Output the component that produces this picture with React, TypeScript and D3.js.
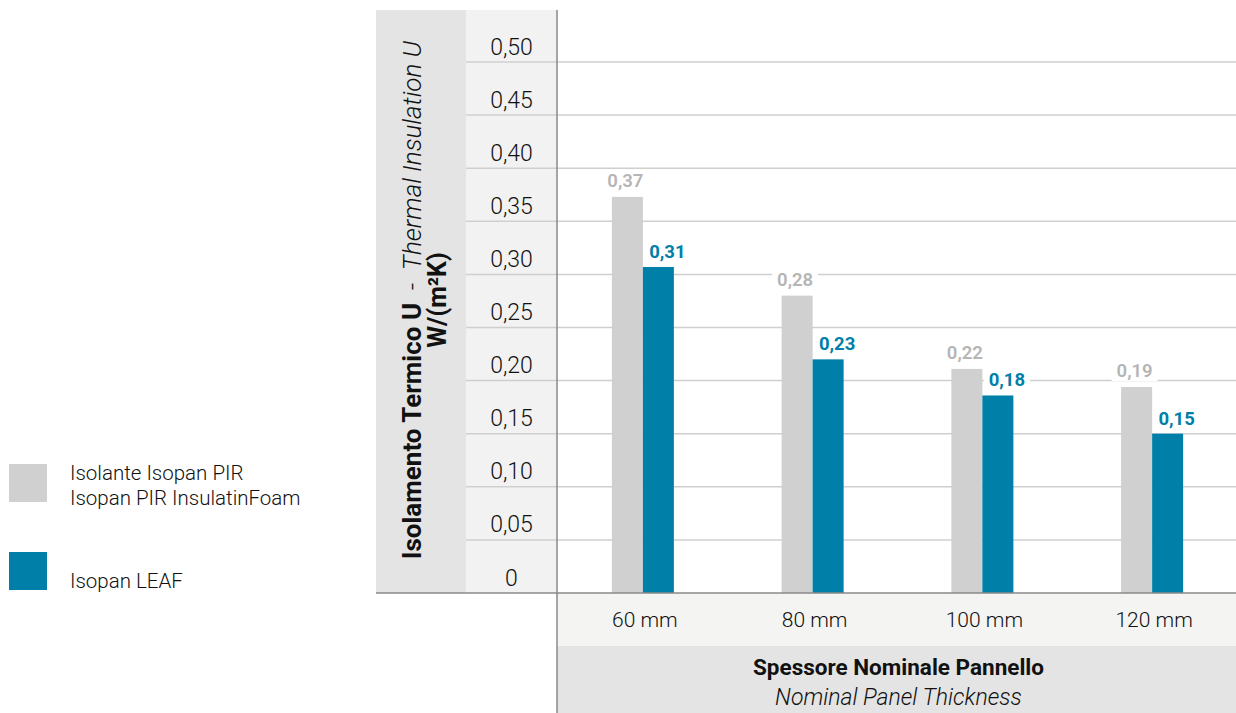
import React from "react";
import * as d3 from "d3";

const categories = ["60 mm", "80 mm", "100 mm", "120 mm"];
const pirValues = [0.373, 0.28, 0.211, 0.194];
const leafValues = [0.307, 0.22, 0.186, 0.15];
const pirLabels = ["0,37", "0,28", "0,22", "0,19"];
const leafLabels = ["0,31", "0,23", "0,18", "0,15"];
const yTicks = [0, 0.05, 0.1, 0.15, 0.2, 0.25, 0.3, 0.35, 0.4, 0.45, 0.5];
const yTickLabels = ["0", "0,05", "0,10", "0,15", "0,20", "0,25", "0,30", "0,35", "0,40", "0,45", "0,50"];
const legendItems = [
  { lines: ["Isolante Isopan PIR", "Isopan PIR InsulatinFoam"], color: "#d0d0d0" },
  { lines: ["Isopan LEAF"], color: "#0080a8" },
];

const W = 1236;
const H = 713;
const FONT = "Roboto, 'Open Sans', sans-serif";
const GRAY = "#d0d0d0";
const BLUE = "#0080a8";

export default function App() {
  const panelLeft = 376;
  const tickLeft = 466;
  const plotLeft = 557;
  const plotRight = 1236;
  const top = 10;
  const base = 593;

  const y = d3.scaleLinear().domain([0, 0.5]).range([base, 62]);
  const x = d3.scaleBand<string>().domain(categories).range([plotLeft, plotRight]).padding(0);
  const barW = 31;

  return (
    <svg
      width={W}
      height={H}
      style={{ position: "absolute", left: 0, top: 0, fontFamily: FONT }}
    >
      <rect x={0} y={0} width={W} height={H} fill="#ffffff" />
      {/* y-axis panels */}
      <rect x={panelLeft} y={top} width={tickLeft - panelLeft} height={base - top} fill="#e4e4e4" />
      <rect x={tickLeft} y={top} width={plotLeft - tickLeft} height={base - top} fill="#f2f2f2" />
      {/* x-axis panels */}
      <rect x={plotLeft} y={base} width={plotRight - plotLeft} height={646 - base} fill="#f4f4f2" />
      <rect x={plotLeft} y={646} width={plotRight - plotLeft} height={H - 646} fill="#e4e4e4" />

      {/* gridlines */}
      {yTicks.slice(1).map((t) => (
        <line key={t} x1={tickLeft} x2={plotRight} y1={y(t)} y2={y(t)} stroke="#cfcfcf" strokeWidth={1.5} />
      ))}
      {/* tick labels */}
      {yTicks.map((t, i) => (
        <text
          key={t}
          x={(tickLeft + plotLeft) / 2}
          y={y(t) - 15}
          textAnchor="middle"
          dominantBaseline="central"
          fontSize={23}
          fontWeight={300}
          fill="#111"
        >
          {yTickLabels[i]}
        </text>
      ))}

      {/* bars */}
      {categories.map((c, i) => {
        const cx = (x(c) as number) + x.bandwidth() / 2 + 1;
        return (
          <g key={c}>
            <rect x={cx - barW} y={y(pirValues[i])} width={barW} height={base - y(pirValues[i])} fill={GRAY} />
            <rect x={cx} y={y(leafValues[i])} width={barW} height={base - y(leafValues[i])} fill={BLUE} />
          </g>
        );
      })}
      {/* value labels */}
      {categories.map((c, i) => {
        const cx = (x(c) as number) + x.bandwidth() / 2 + 1;
        const gx = cx - barW / 2 - 2;
        const bx = cx + barW / 2 + 9;
        const gy = y(pirValues[i]) - 16;
        const by = y(leafValues[i]) - 15;
        return (
          <g key={c}>
            <rect x={gx - 23} y={gy - 10} width={46} height={20} fill="#ffffff" />
            <text x={gx} y={gy} textAnchor="middle" dominantBaseline="central" fontSize={18.5} fontWeight={600} fill="#b5b5b5">
              {pirLabels[i]}
            </text>
            <rect x={bx - 23} y={by - 10} width={46} height={20} fill="#ffffff" />
            <text x={bx} y={by} textAnchor="middle" dominantBaseline="central" fontSize={18.5} fontWeight={700} fill={BLUE}>
              {leafLabels[i]}
            </text>
          </g>
        );
      })}

      {/* axis lines */}
      <line x1={plotLeft} x2={plotLeft} y1={top} y2={H} stroke="#8a8a8a" strokeWidth={1.5} />
      <line x1={panelLeft} x2={plotRight} y1={base} y2={base} stroke="#8a8a8a" strokeWidth={1.5} />

      {/* category labels */}
      {categories.map((c) => (
        <text
          key={c}
          x={(x(c) as number) + x.bandwidth() / 2 + 3}
          y={620}
          textAnchor="middle"
          dominantBaseline="central"
          fontSize={21}
          fontWeight={300}
          fill="#111"
        >
          {c}
        </text>
      ))}
      <text x={(plotLeft + plotRight) / 2 + 2} y={667} textAnchor="middle" dominantBaseline="central" fontSize={22.5} fontWeight={700} fill="#111">
        Spessore Nominale Pannello
      </text>
      <text x={(plotLeft + plotRight) / 2 + 2} y={697} textAnchor="middle" dominantBaseline="central" fontSize={23} fontStyle="italic" fontWeight={300} fill="#111">
        Nominal Panel Thickness
      </text>

      {/* y title */}
      <text transform="translate(421,300) rotate(-90)" textAnchor="middle" fontSize={26} fill="#111">
        <tspan fontWeight={700}>Isolamento Termico U</tspan>
        <tspan fontWeight={300}>{"\u00a0\u00a0-\u00a0\u00a0"}</tspan>
        <tspan fontStyle="italic" fontWeight={300}>Thermal Insulation U</tspan>
      </text>
      <text transform="translate(446,300) rotate(-90)" textAnchor="middle" fontSize={25} fontWeight={700} fill="#111">
        W/(m²K)
      </text>

      {/* legend */}
      {legendItems.map((item, i) => {
        const ly = i === 0 ? 464 : 552;
        return (
          <g key={i}>
            <rect x={9} y={ly} width={38} height={38} fill={item.color} />
            {item.lines.map((ln, j) => (
              <text
                key={j}
                x={70}
                y={(i === 0 ? 473 : 581) + j * 25}
                dominantBaseline="central"
                fontSize={20.5}
                fontWeight={300}
                fill="#111"
              >
                {ln}
              </text>
            ))}
          </g>
        );
      })}
    </svg>
  );
}
